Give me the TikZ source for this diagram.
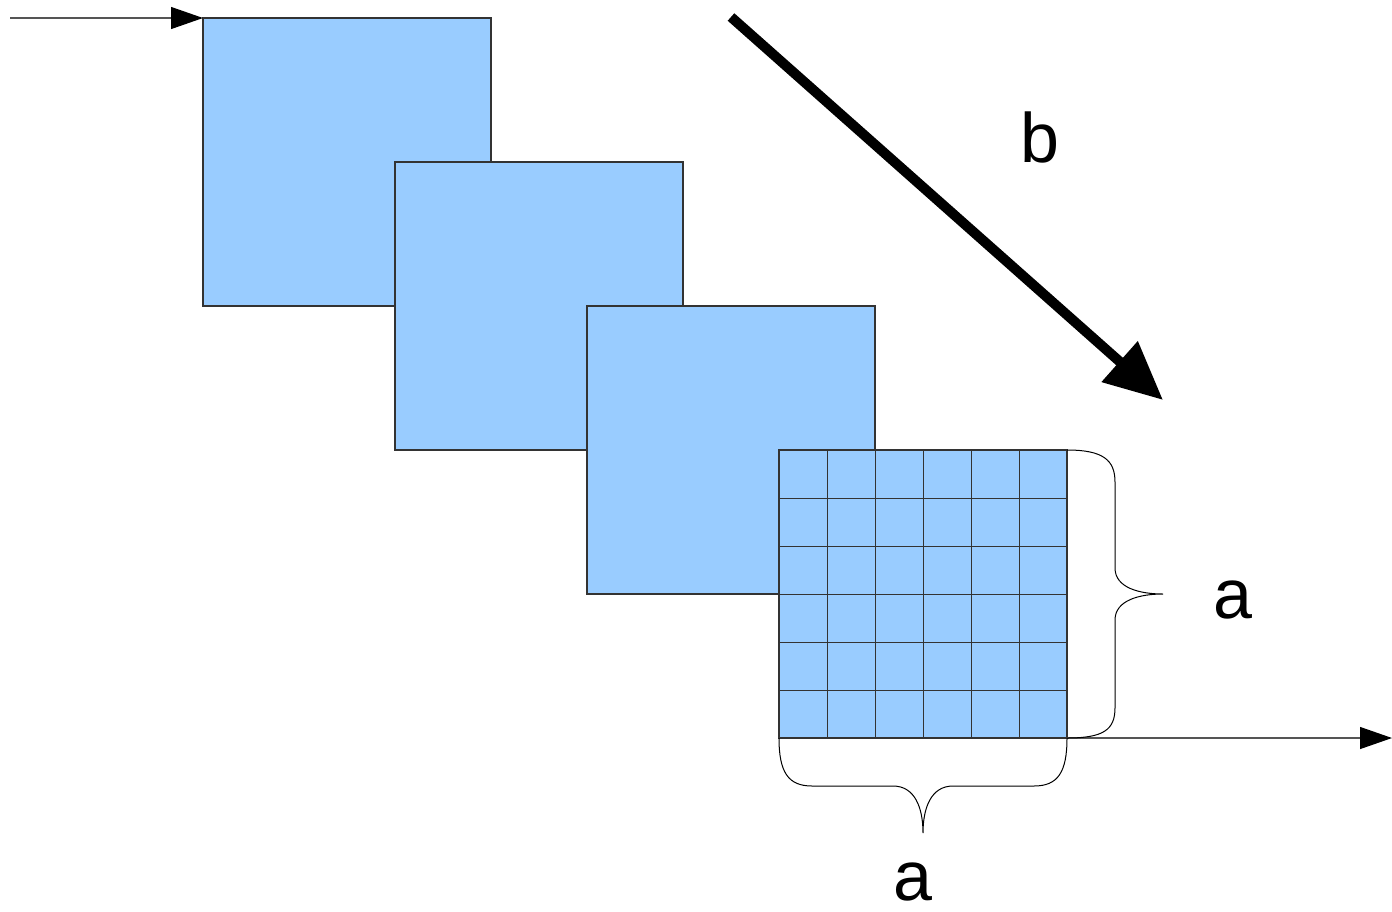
\documentclass[tikz,border=0pt]{standalone}
\usepackage{fontspec}
\setmainfont{Liberation Sans}
\usetikzlibrary{arrows.meta}
\definecolor{boxblue}{HTML}{99CCFF}
\definecolor{lineg}{HTML}{555555}
\tikzset{
  sq/.style={draw=black!80, line width=0.6pt, fill=boxblue, minimum width=144pt, minimum height=144pt, inner sep=0pt, outer sep=0pt, anchor=north west},
  thin arrow/.style={draw=lineg, line width=0.6pt, -{Triangle[length=16pt,width=11pt,fill=black,color=black]}},
  big arrow/.style={draw=black, line width=5pt, -{Triangle[length=29pt,width=26pt]}},
  brace/.style={draw=black, line width=0.5pt},
  lbl/.style={font=\fontsize{35pt}{40pt}\selectfont, anchor=base, inner sep=0pt}
}
\begin{document}
\begin{tikzpicture}[x=0.5pt, y=-0.5pt]
\useasboundingbox (0,0) rectangle (1392,911);
\fill[white] (0,0) rectangle (1392,911);
\node[sq] (s1) at (203,18) {};
\node[sq] (s2) at (395,162) {};
\node[sq] (s3) at (587,306) {};
\node[sq] (s4) at (779,450) {};
\foreach \i in {1,...,5} {
  \draw[black!80, line width=0.5pt] (779+48*\i,450) -- (779+48*\i,738);
  \draw[black!80, line width=0.5pt] (779,450+48*\i) -- (1067,450+48*\i);
}
\coordinate (inA) at (10,18);
\draw[thin arrow] (inA) -- (s1.north west);
\coordinate (outB) at (1392,738);
\draw[thin arrow] (s4.south east) -- (outB);
\coordinate (bs) at (731,17);
\coordinate (be) at (1163,400);
\draw[big arrow] (bs) -- (be);
\node[lbl] (lb) at (1040,162) {b};
% right brace
\draw[brace] (s4.north east) .. controls (1103,450) and (1115,460) .. (1115,482)
  -- (1115,568) .. controls (1115,588) and (1140,594) .. (1163,594)
  .. controls (1140,594) and (1115,600) .. (1115,620)
  -- (1115,708) .. controls (1115,730) and (1103,738) .. (s4.south east);
\node[lbl] (la1) at (1233,618) {a};
% bottom brace
\draw[brace] (s4.south west) .. controls (779,772) and (788,786) .. (812,786)
  -- (893,786) .. controls (915,786) and (923,808) .. (923,833)
  .. controls (923,808) and (931,786) .. (953,786)
  -- (1034,786) .. controls (1058,786) and (1067,772) .. (s4.south east);
\node[lbl] (la2) at (913,900) {a};
\end{tikzpicture}
\end{document}
